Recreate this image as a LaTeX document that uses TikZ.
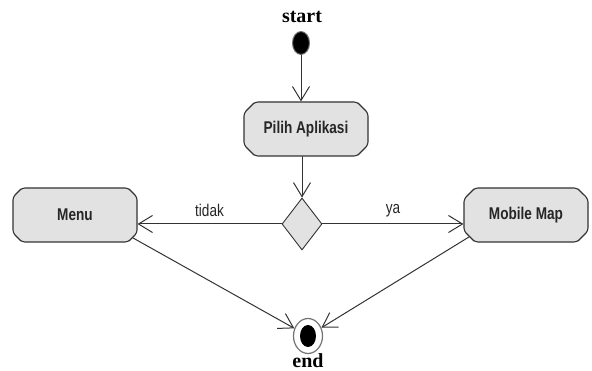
\documentclass[tikz,border=0pt]{standalone}
\usepackage{fontspec}
\setmainfont{Liberation Serif}
\newfontfamily\sempit[FakeStretch=0.8]{Liberation Sans}
\usetikzlibrary{arrows.meta,shapes.geometric,shapes.misc,positioning}
\definecolor{garis}{HTML}{333333}
\definecolor{isi}{HTML}{E2E2E2}
\begin{document}
\begin{tikzpicture}[x=1pt,y=-1pt,>={Straight Barb[length=14pt,width=17pt]}, line join=round, line cap=round,
	aksi/.style={chamfered rectangle, chamfered rectangle xsep=11pt, draw=garis, fill=isi, line width=1.1pt, rounded corners=3pt, minimum width=124pt, minimum height=54pt, inner sep=0pt, font=\sempit\fontsize{17}{18}\selectfont\bfseries, text=black!85},
	putusan/.style={diamond, draw=garis, fill=isi, line width=0.9pt, minimum width=40pt, minimum height=52pt, inner sep=0pt},
	alur/.style={->, line width=1pt, draw=garis},
	label/.style={font=\sempit\fontsize{17}{18}\selectfont, text=black!85}]
	\useasboundingbox (0,0) rectangle (592,371);
	% mulai dan akhir
	\node[font=\fontsize{20}{20}\selectfont\bfseries] (tmulai) at (302,17) {start};
	\node[ellipse, fill=black, draw=black!55, line width=1pt, minimum width=17pt, minimum height=23pt, inner sep=0pt] (mulai) at (301,43) {};
	\node[ellipse, fill=white, draw=black!55, line width=1.2pt, minimum width=29pt, minimum height=35pt, inner sep=0pt,
		path picture={\fill[black] (path picture bounding box.center) ellipse (8pt and 11pt);}] (akhir) at (308,336) {};
	\node[font=\fontsize{20}{20}\selectfont\bfseries, anchor=base] (takhir) at (308,368) {end};
	% aktivitas
	\node[aksi] (pilih) at (306,129) {Pilih Aplikasi};
	\node[putusan] (cek) at (302,224) {};
	\node[aksi] (menu) at (75,215) {Menu};
	\node[aksi] (peta) at (526,215) {Mobile Map};
	% alur
	\draw[alur] (mulai) -- (mulai |- pilih.north);
	\draw[alur] (cek |- pilih.south) -- (cek.north);
	\draw[alur] (cek.west) -- node[label, above=3pt] (ltidak) {tidak} (cek.west -| menu.east);
	\draw[alur] (cek.east) -- node[label, above=3pt] (lya) {ya} (cek.east -| peta.west);
	\draw[alur] (menu.south east) -- (akhir);
	\draw[alur] (peta.south west) -- (akhir);
\end{tikzpicture}
\end{document}
